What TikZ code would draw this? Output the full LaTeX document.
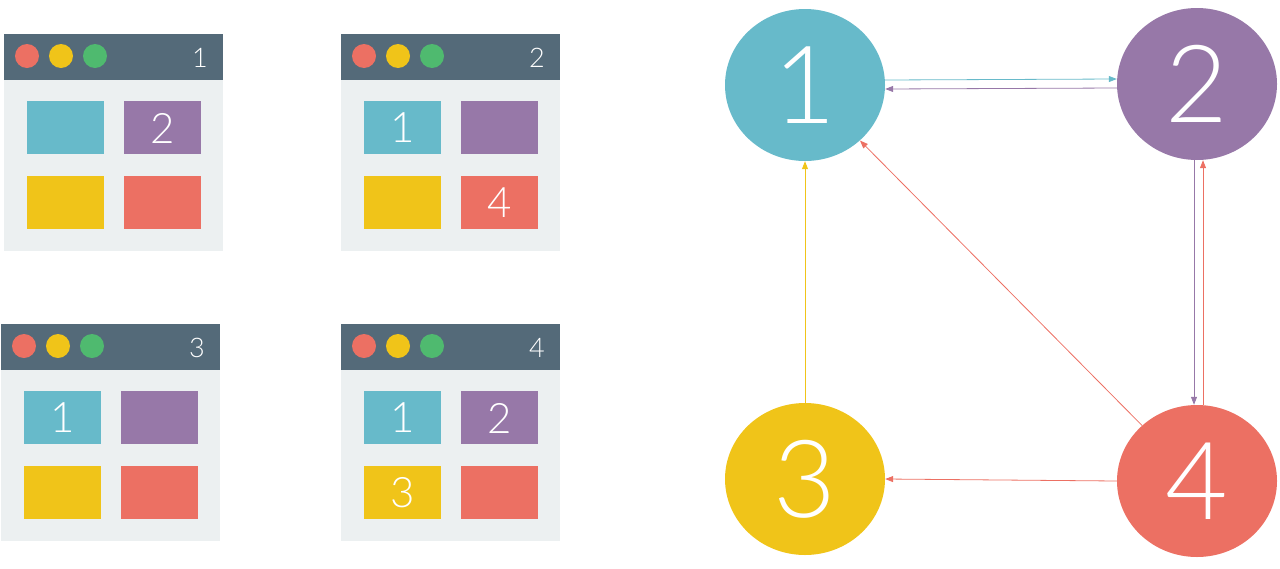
\documentclass[tikz,border=0pt]{standalone}
\usepackage{fontspec}
\setmainfont{Lato Light}
\usetikzlibrary{shapes.geometric,arrows.meta}
\definecolor{cblue}{HTML}{67BACA}
\definecolor{cpurple}{HTML}{9778A8}
\definecolor{cyellow}{HTML}{F0C419}
\definecolor{cred}{HTML}{EC7063}
\definecolor{cgreen}{HTML}{4FBA6F}
\definecolor{cbar}{HTML}{546A79}
\definecolor{cbody}{HTML}{ECF0F1}
\tikzset{
  bignode/.style={ellipse, minimum width=160pt, minimum height=152pt, inner sep=0pt, text=white, font=\fontsize{108}{108}\selectfont},
  link/.style={line width=0.8pt, -{Triangle[length=8pt,width=6pt]}},
  tile/.style={inner sep=0pt, text=white, font=\fontsize{42}{42}\selectfont},
  dot/.style={circle, inner sep=0pt, minimum size=24pt},
  barlabel/.style={text=white, inner sep=0pt, font=\fontsize{27}{27}\selectfont},
}
\newcommand\mywin[3]{%
  \begin{scope}[shift={(#1,#2)}]
    \fill[cbody] (0,0) rectangle (219,217);
    \fill[cbar] (0,0) rectangle (219,46);
    \node[dot, fill=cred] at (23,22) {};
    \node[dot, fill=cyellow] at (57,22) {};
    \node[dot, fill=cgreen] at (91,22) {};
    \node[barlabel] at (196,24) {#3};
  \end{scope}}
\newcommand\mytile[6]{% x0 y0 dx dy color text
  \fill[#5] ({#1+#3},{#2+#4}) rectangle ({#1+#3+77},{#2+#4+53});
  \node[tile] at ({#1+#3+38.5},{#2+#4+27}) {#6};}
\begin{document}
\begin{tikzpicture}[x=1pt,y=-1pt]
\useasboundingbox (0,0) rectangle (1280,568);
% window 1
\mywin{4}{34}{1}
\mytile{4}{34}{23}{67}{cblue}{}
\mytile{4}{34}{120}{67}{cpurple}{2}
\mytile{4}{34}{23}{142}{cyellow}{}
\mytile{4}{34}{120}{142}{cred}{}
% window 2
\mywin{341}{34}{2}
\mytile{341}{34}{23}{67}{cblue}{1}
\mytile{341}{34}{120}{67}{cpurple}{}
\mytile{341}{34}{23}{142}{cyellow}{}
\mytile{341}{34}{120}{142}{cred}{4}
% window 3
\mywin{1}{324}{3}
\mytile{1}{324}{23}{67}{cblue}{1}
\mytile{1}{324}{120}{67}{cpurple}{}
\mytile{1}{324}{23}{142}{cyellow}{}
\mytile{1}{324}{120}{142}{cred}{}
% window 4
\mywin{341}{324}{4}
\mytile{341}{324}{23}{67}{cblue}{1}
\mytile{341}{324}{120}{67}{cpurple}{2}
\mytile{341}{324}{23}{142}{cyellow}{3}
\mytile{341}{324}{120}{142}{cred}{}
% graph
\node[bignode, fill=cblue] (n1) at (805,85) {1};
\node[bignode, fill=cpurple] (n2) at (1197,84) {2};
\node[bignode, fill=cyellow] (n3) at (805,479) {3};
\node[bignode, fill=cred] (n4) at (1197,481) {4};
\draw[link, cblue] ([yshift=5pt]n1.east) -- ([yshift=5pt]n2.west);
\draw[link, cpurple] ([yshift=-4pt]n2.west) -- ([yshift=-4pt]n1.east);
\draw[link, cpurple] ([xshift=-3pt]n2.south) -- ([xshift=-3pt]n4.north);
\draw[link, cred] ([xshift=6pt]n4.north) -- ([xshift=6pt]n2.south);
\draw[link, cyellow] (n3.north) -- (n1.south);
\draw[link, cred] (n4) -- (n1);
\draw[link, cred] (n4.west) -- (n3.east);
\end{tikzpicture}
\end{document}
